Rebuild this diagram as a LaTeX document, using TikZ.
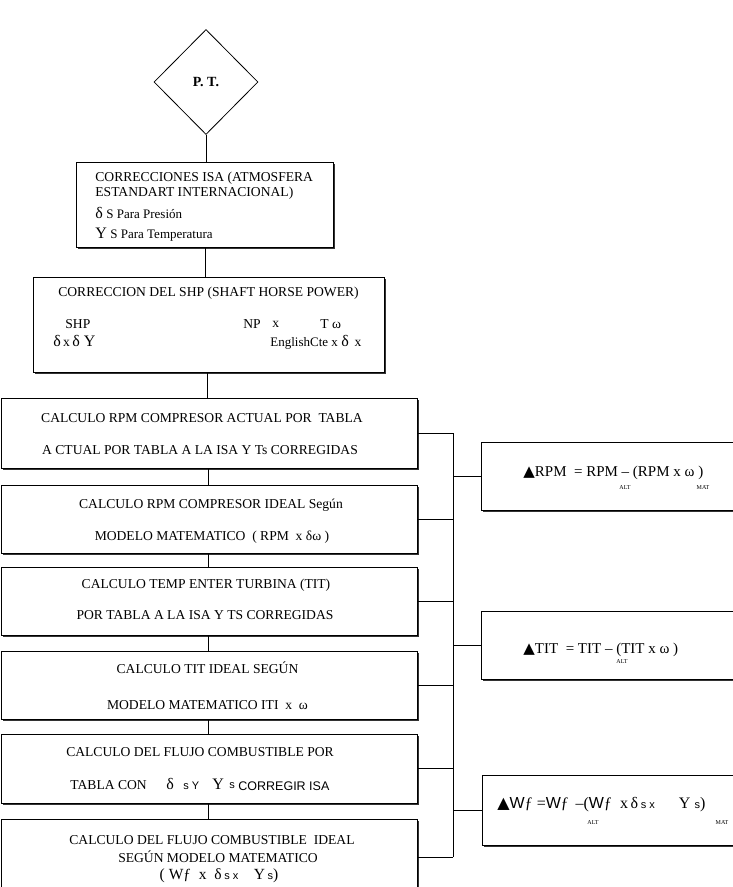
\documentclass[tikz,border=0pt]{standalone}
\usepackage{fontspec}
\setmainfont{Liberation Serif}
\newfontfamily\arialfont{Liberation Sans}
\newfontfamily\symfont{DejaVu Sans}
\usetikzlibrary{shapes.geometric,shadows,positioning}
\newcommand\tamG{\fontsize{16}{17}\selectfont}
\newcommand\tamC{\fontsize{13}{14}\selectfont}
\newcommand\tamS{\arialfont\fontsize{11}{12}\selectfont}

\begin{document}
\begin{tikzpicture}[x=1pt,y=-1pt,line width=0.8pt,
  caja/.style={draw,fill=white,rectangle,inner sep=0pt,
    drop shadow={shadow xshift=1.6pt,shadow yshift=-1.8pt,fill=black,opacity=0.8}},
  rombo/.style={draw,diamond,inner sep=0pt,minimum width=104pt,minimum height=105pt,
    font=\bfseries\fontsize{14}{16}\selectfont},
  txt/.style={inner sep=0pt,font=\fontsize{13.6}{15}\selectfont},
  grande/.style={inner sep=0pt,anchor=west,font=\fontsize{15}{17}\selectfont},
  indice/.style={inner sep=0pt,font=\fontsize{6}{7}\selectfont}]
      \useasboundingbox (0,0) rectangle (733,887);

      % diagrama principal
      \node[rombo] (pt) at (206,82) {P. T.};
      \node[caja,minimum width=257pt,minimum height=85pt] (isa) at (205,204.5) {};
      \node[caja,minimum width=351pt,minimum height=95pt] (shp) at (208.5,324.5) {};
      \node[caja,minimum width=416pt,minimum height=70pt] (rpmact) at (209,433) {};
      \node[caja,minimum width=416pt,minimum height=68pt] (rpmid) at (209,519) {};
      \node[caja,minimum width=416pt,minimum height=68pt] (titact) at (209,601) {};
      \node[caja,minimum width=416pt,minimum height=68pt] (titid) at (209,685) {};
      \node[caja,minimum width=416pt,minimum height=69pt] (wfact) at (209,768.5) {};
      \node[caja,minimum width=416pt,minimum height=76pt] (wfid) at (209,857) {};

      % cajas de diferencias
      \node[caja,minimum width=264pt,minimum height=68pt] (drpm) at (613,476) {};
      \node[caja,minimum width=264pt,minimum height=68pt] (dtit) at (613.5,645) {};
      \node[caja,minimum width=264pt,minimum height=70pt] (dwf) at (614,810) {};

      % textos
      \node[txt,anchor=west] (isa1) at (95,178) {CORRECCIONES ISA (ATMOSFERA};
      \node[txt,anchor=west] (isa2) at (95,193) {ESTANDART INTERNACIONAL)};
      \node[txt,anchor=west] (isa3) at (95,213) {{\tamG δ} {\tamC S Para Presión}};
      \node[txt,anchor=west] (isa4) at (95,235) {{\tamG Y} {\tamC S Para Temperatura}};

      \node[txt] (shp1) at (208.5,293) {CORRECCION DEL SHP (SHAFT HORSE POWER)};
      \node[txt,anchor=west] (shp2) at (65,324) {SHP};
      \node[txt,anchor=west] (shp3) at (243,324) {NP};
      \node[txt,anchor=west] (shp4) at (272,324) {x};
      \node[txt,anchor=west] (shp5) at (320,324) {T ω};
      \node[txt,anchor=west] (shp6) at (53,341) {{\tamG δ}\,x\,{\tamG δ Y}};
      \node[txt,anchor=west] (shp7) at (270,342) {{\tamC EnglishCte x} {\tamG δ} \,x};

      \node[txt] (ra1) at (202,418) {CALCULO RPM COMPRESOR ACTUAL POR\ \ TABLA};
      \node[txt] (ra2) at (200,450) {A CTUAL POR TABLA A LA ISA Y Ts CORREGIDAS};
      \node[txt] (ri1) at (211,505) {CALCULO RPM COMPRESOR IDEAL Según};
      \node[txt] (ri2) at (212,537) {MODELO MATEMATICO\ \ ( RPM\ \ x δω )};
      \node[txt] (ta1) at (206,585) {CALCULO TEMP ENTER TURBINA (TIT)};
      \node[txt] (ta2) at (205,615) {POR TABLA A LA ISA Y TS CORREGIDAS};
      \node[txt] (ti1) at (207.5,668) {CALCULO TIT IDEAL SEGÚN};
      \node[txt] (ti2) at (207.5,705) {MODELO MATEMATICO ITI\ \ x\ \ ω};
      \node[txt] (wa1) at (200,752) {CALCULO DEL FLUJO COMBUSTIBLE POR};
      \node[txt,anchor=west] (wa2) at (70,785) {TABLA CON};
      \node[txt,anchor=west] (wa3) at (166,784) {\tamG δ};
      \node[txt,anchor=west] (wa4) at (183,786) {\tamS s Y};
      \node[txt,anchor=west] (wa5) at (212,784) {\tamG Y};
      \node[txt,anchor=west] (wa6) at (229,786) {\tamS s};
      \node[txt,anchor=west] (wa7) at (238,786) {\arialfont\fontsize{12.5}{14}\selectfont CORREGIR ISA};
      \node[txt] (wi1) at (212,840) {CALCULO DEL FLUJO COMBUSTIBLE\ \ IDEAL};
      \node[txt] (wi2) at (218,857) {SEGÚN MODELO MATEMATICO};
      \node[txt] (wi3) at (219,876) {\fontsize{15.5}{17}\selectfont (\ Wƒ\ \ x\ \ δ\,{\tamS s\ x}\quad Y\,{\tamS s})};

      \node[grande] (drpm1) at (523,473) {{\symfont ▲}RPM\ \ = RPM – (RPM x ω )};
      \node[indice] (drpm2) at (625,488) {ALT};
      \node[indice] (drpm3) at (703,488) {MAT};
      \node[grande] (dtit1) at (523,650) {{\symfont ▲}TIT\ \ = TIT – (TIT x ω )};
      \node[indice] (dtit2) at (622,662) {ALT};
      \node[grande,font=\fontsize{16}{18}\selectfont] (dwf1) at (497,805) {{\symfont ▲}{\arialfont W}ƒ\ ={\arialfont W}ƒ\ \,–({\arialfont W}ƒ\ \ x\,δ\,{\tamS s\ x}\quad\ \ Y {\tamS s})};
      \node[indice] (dwf2) at (593,823) {ALT};
      \node[indice] (dwf3) at (722,823) {MAT};

      % conectores
      \coordinate (eje) at (453,0);
      \draw (pt.south) -- (pt.south |- isa.north);
      \draw (isa.south) -- (isa.south |- shp.north);
      \draw (207,0 |- shp.south) -- (207,0 |- rpmact.north);
      \foreach \a/\b in {rpmact/rpmid,rpmid/titact,titact/titid,titid/wfact,wfact/wfid}
        \draw (208,0 |- \a.south) -- (208,0 |- \b.north);
      \foreach \c in {rpmact,rpmid,titact,titid,wfact,wfid}
        \draw (\c.east) -- (\c.east -| eje);
      \draw (rpmact.east -| eje) -- (wfid.east -| eje);
      \foreach \d in {drpm,dtit,dwf}
        \draw (\d.west -| eje) -- (\d.west);
\end{tikzpicture}
\end{document}
